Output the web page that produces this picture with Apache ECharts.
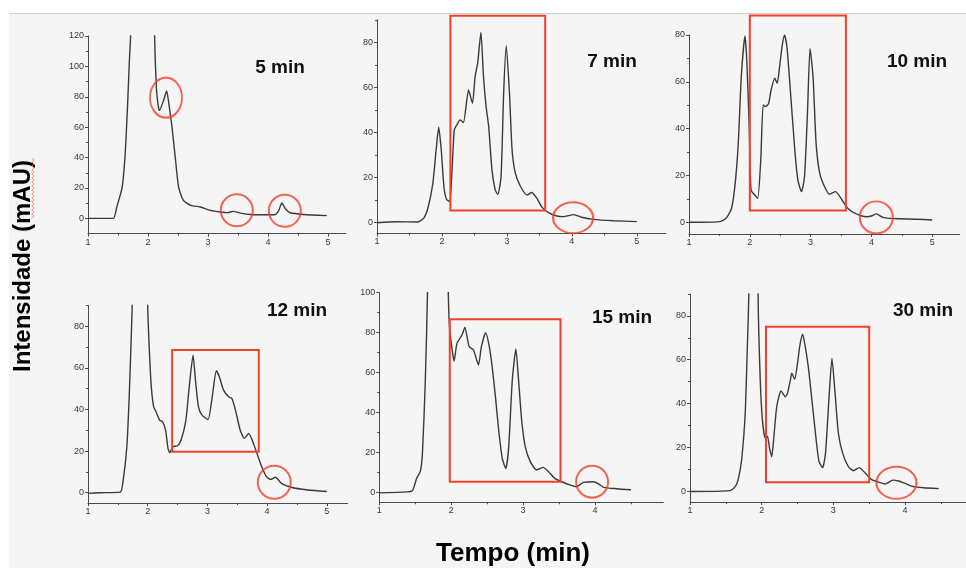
<!DOCTYPE html>
<html>
<head>
<meta charset="utf-8">
<script src="https://cdn.jsdelivr.net/npm/echarts@6/dist/echarts.min.js"></script>
<style>html,body{margin:0;padding:0;background:#fff}#c{width:966px;height:568px}</style>
</head>
<body>
<div id="c"></div>
<script>
// ---------- DATA ----------
var panelLabels = ['5 min', '7 min', '10 min', '12 min', '15 min', '30 min'];

var t5 = [1, 1.42, 1.48, 1.57, 1.62, 1.66, 1.69, 1.71, 1.90, 2.11, 2.14, 2.17, 2.19, 2.26, 2.31, 2.34, 2.40, 2.46, 2.51, 2.59, 2.71, 2.87, 3.04, 3.21, 3.33, 3.42, 3.54, 3.71, 3.93, 4.12, 4.18, 4.23, 4.29, 4.37, 4.59, 4.98];
var v5 = [0, 0, 7.5, 20.6, 42.5, 75, 104, 120, 600, 120, 86, 74, 71, 77.6, 83.8, 77.6, 60, 38, 20.6, 11.8, 8.6, 7.5, 5.3, 4.2, 3.8, 4.6, 3.5, 2.6, 2.4, 2.6, 5.3, 10.1, 6.4, 3.7, 2.6, 1.8];

var t7 = [1, 1.3, 1.62, 1.72, 1.79, 1.86, 1.91, 1.95, 1.99, 2.03, 2.07, 2.12, 2.15, 2.19, 2.23, 2.28, 2.33, 2.41, 2.47, 2.51, 2.55, 2.60, 2.64, 2.68, 2.72, 2.77, 2.82, 2.86, 2.91, 2.95, 2.99, 3.04, 3.08, 3.13, 3.21, 3.31, 3.38, 3.46, 3.54, 3.64, 3.77, 3.87, 4.03, 4.15, 4.33, 4.64, 5.0];
var v7 = [-0.2, 0.2, 0.1, 1.8, 7, 17.3, 32, 42.2, 32, 15.9, 10.2, 9.2, 20.3, 41, 43.3, 45.5, 44.3, 58.8, 52.9, 64.7, 70.7, 84.4, 64.7, 51.4, 42.5, 23.3, 14.4, 12.4, 20.3, 57.3, 78.5, 57.3, 32.1, 21.8, 15.9, 12.1, 13.2, 10.7, 6.7, 4.3, 2.8, 2.5, 3.4, 2.2, 1.3, 0.7, 0.3];

var t10 = [1, 1.50, 1.61, 1.70, 1.76, 1.81, 1.86, 1.92, 1.95, 1.99, 2.02, 2.08, 2.13, 2.18, 2.22, 2.26, 2.31, 2.35, 2.41, 2.45, 2.49, 2.53, 2.57, 2.61, 2.65, 2.74, 2.79, 2.85, 2.90, 2.95, 2.99, 3.04, 3.09, 3.15, 3.23, 3.31, 3.41, 3.50, 3.61, 3.75, 3.92, 4.00, 4.08, 4.19, 4.35, 4.74, 5.0];
var v10 = [0, 0.3, 1.7, 6, 16.7, 33.7, 62.2, 79.6, 69.3, 40.9, 13.8, 11.7, 10.2, 26.6, 50.1, 49.4, 50.8, 56.5, 61.5, 59.4, 66.5, 75, 80, 75, 62.2, 30.9, 18.1, 13.1, 19.5, 48, 74.3, 62.2, 33.7, 20.9, 15.2, 12, 13.1, 10.2, 6, 3.6, 2.4, 2.7, 3.6, 2.1, 1.6, 1.3, 1.0];

var t12 = [1, 1.20, 1.54, 1.59, 1.65, 1.69, 1.73, 1.74, 1.87, 2.0, 2.03, 2.06, 2.10, 2.14, 2.20, 2.25, 2.30, 2.34, 2.37, 2.42, 2.50, 2.56, 2.64, 2.69, 2.76, 2.80, 2.85, 2.91, 3.01, 3.08, 3.15, 3.20, 3.27, 3.36, 3.41, 3.47, 3.55, 3.62, 3.69, 3.75, 3.82, 3.91, 3.99, 4.06, 4.14, 4.24, 4.40, 4.68, 5.0];
var v12 = [-0.3, 0, 0.3, 6, 22, 46, 80, 90, 500, 90, 67, 51, 41.3, 38.9, 34.9, 34.1, 30, 21.3, 19.2, 22.1, 22.6, 25.3, 34.9, 49.3, 66.1, 54, 41.3, 37.3, 35.2, 46, 58.6, 55.7, 49.3, 46, 45.3, 39.7, 30, 26.1, 28.5, 25.3, 19.7, 12.5, 7.7, 6.4, 7.4, 4.5, 2.6, 1.3, 0.6];

var t15 = [1, 1.38, 1.46, 1.52, 1.57, 1.60, 1.64, 1.67, 1.81, 1.96, 1.98, 2.02, 2.04, 2.08, 2.15, 2.19, 2.25, 2.31, 2.38, 2.42, 2.48, 2.53, 2.57, 2.62, 2.66, 2.71, 2.76, 2.80, 2.85, 2.90, 2.93, 2.98, 3.03, 3.10, 3.19, 3.28, 3.35, 3.44, 3.54, 3.65, 3.74, 3.84, 3.98, 4.05, 4.12, 4.30, 4.50];
var v15 = [-0.3, 0.2, 0.8, 7, 10.4, 19.5, 56, 100, 500, 100, 81, 69.6, 65.8, 74.6, 78.8, 82.6, 73, 71.3, 63.8, 73, 80, 73, 62.9, 46.2, 31.2, 17, 12, 22.9, 56.3, 71.8, 59.6, 36.2, 22.9, 15.4, 11.2, 12.5, 10.4, 7, 5.3, 3.7, 2.8, 5, 5.3, 4.2, 2.5, 1.8, 1.3];

var t30 = [1, 1.56, 1.63, 1.67, 1.72, 1.77, 1.80, 1.82, 1.885, 1.95, 1.98, 2.01, 2.05, 2.08, 2.11, 2.14, 2.17, 2.21, 2.27, 2.33, 2.36, 2.40, 2.42, 2.46, 2.50, 2.53, 2.57, 2.60, 2.65, 2.71, 2.76, 2.80, 2.85, 2.89, 2.94, 2.98, 3.02, 3.07, 3.13, 3.21, 3.28, 3.36, 3.44, 3.53, 3.64, 3.72, 3.83, 3.91, 4.00, 4.12, 4.26, 4.47];
var v30 = [-0.2, 0.2, 2, 5, 14.2, 35.5, 66, 89.6, 500, 89.6, 50.7, 32.5, 24.1, 25.1, 19.5, 15.7, 24.8, 38.6, 45.7, 43.1, 44.6, 50.7, 53.8, 51, 58.4, 66, 71.6, 67.5, 56.8, 38.6, 23.3, 13.4, 10.7, 17.2, 43.1, 60.6, 46.2, 26.4, 17.2, 11.1, 9.3, 10.7, 8.4, 5.3, 4, 3.2, 5, 4.6, 3.5, 2, 1.5, 1.1];

// axis ranges & tick labels
var xMaxes = [5.3, 5.45, 5.45, 5.35, 4.95, 4.85];
var yMins = [-10, -5, -5, -5, -5, -5];
var yMaxes = [120, 90, 80, 90, 100, 90];
var yTickLabels = [
  [0, 20, 40, 60, 80, 100, 120],
  [0, 20, 40, 60, 80],
  [0, 20, 40, 60, 80],
  [0, 20, 40, 60, 80],
  [0, 20, 40, 60, 80, 100],
  [0, 20, 40, 60, 80]
];
var yMinorTicks = [
  [10, 30, 50, 70, 90, 110],
  [10, 30, 50, 70, 90],
  [10, 30, 50, 70],
  [10, 30, 50, 70, 90],
  [10, 30, 50, 70, 90],
  [10, 30, 50, 70, 90]
];
var xTickLabels = [
  [1, 2, 3, 4, 5], [1, 2, 3, 4, 5], [1, 2, 3, 4, 5],
  [1, 2, 3, 4, 5], [1, 2, 3, 4], [1, 2, 3, 4]
];
var xMinorTicks = [
  [1.5, 2.5, 3.5, 4.5], [1.5, 2.5, 3.5, 4.5, 5.5], [1.5, 2.5, 3.5, 4.5],
  [1.5, 2.5, 3.5, 4.5], [1.5, 2.5, 3.5, 4.5], [1.5, 2.5, 3.5, 4.5]
];

// annotations (data coordinates): rectangles
var boxPanels = [1, 2, 3, 4, 5];
var boxXFrom = [2.13, 2.0, 2.41, 1.98, 2.06];
var boxXTo = [3.59, 3.58, 3.86, 3.52, 3.50];
var boxYFrom = [5.2, 5.0, 19.7, 5.3, 4.0];
var boxYTo = [91.8, 88.3, 68.6, 86.7, 75];

// circled regions
var ringPanels = [0, 0, 0, 1, 2, 3, 4, 5];
var ringX = [2.30, 3.48, 4.28, 4.02, 4.08, 4.12, 3.96, 3.88];
var ringY = [79.4, 5.3, 5.0, 2.0, 2.1, 5.0, 5.3, 3.8];

// ---------- STYLE / LAYOUT ----------
var ringSizes = [[32, 40], [32, 32], [32, 32], [40, 31], [33, 32], [33, 33], [32, 32], [40, 32]];
var grids = [
  {left: 88, top: 36, width: 258, height: 197.6},
  {left: 377, top: 19.8, width: 289, height: 213.7},
  {left: 689, top: 35, width: 270.6, height: 199},
  {left: 88, top: 305.5, width: 259.7, height: 197.6},
  {left: 379.3, top: 292.7, width: 284, height: 209.6},
  {left: 690, top: 294, width: 276, height: 208}
];
var labelPos = [[280, 68], [612, 62], [917, 62], [297, 311], [622, 318], [923, 311]];
var RED = '#f0402a';
var AX = '#4a4a4a';
var FONT = '"Liberation Sans", Arial, sans-serif';

var T = [t5, t7, t10, t12, t15, t30];
var V = [v5, v7, v10, v12, v15, v30];

var option = {
  animation: false,
  backgroundColor: '#f5f5f5',
  grid: [], xAxis: [], yAxis: [], series: [], graphic: []
};

for (var i = 0; i < 6; i++) {
  var g = grids[i];
  option.grid.push({left: g.left, top: g.top, width: g.width, height: g.height, containLabel: false});
  option.xAxis.push({
    type: 'value', gridIndex: i, min: 1, max: xMaxes[i], position: 'bottom',
    axisLine: {show: true, onZero: false, lineStyle: {color: AX, width: 1}},
    axisTick: {show: true, length: 3, customValues: xTickLabels[i], lineStyle: {color: AX}},
    axisLabel: {show: true, customValues: xTickLabels[i], color: '#383838', fontSize: 9, fontFamily: FONT, margin: 4},
    splitLine: {show: false}
  });
  option.xAxis.push({
    type: 'value', gridIndex: i, min: 1, max: xMaxes[i], position: 'bottom',
    axisLine: {show: false, onZero: false},
    axisTick: {show: true, length: 2, customValues: xMinorTicks[i], lineStyle: {color: AX}},
    axisLabel: {show: false}, splitLine: {show: false}
  });
  option.yAxis.push({
    type: 'value', gridIndex: i, min: yMins[i], max: yMaxes[i], position: 'left',
    axisLine: {show: true, onZero: false, lineStyle: {color: AX, width: 1}},
    axisTick: {show: true, length: 3, customValues: yTickLabels[i], lineStyle: {color: AX}},
    axisLabel: {show: true, customValues: yTickLabels[i], color: '#383838', fontSize: 9, fontFamily: FONT, margin: 4},
    splitLine: {show: false}
  });
  option.yAxis.push({
    type: 'value', gridIndex: i, min: yMins[i], max: yMaxes[i], position: 'left',
    axisLine: {show: false, onZero: false},
    axisTick: {show: true, length: 2, customValues: yMinorTicks[i], lineStyle: {color: AX}},
    axisLabel: {show: false}, splitLine: {show: false}
  });

  var pts = [];
  for (var k = 0; k < T[i].length; k++) pts.push([T[i][k], V[i][k]]);
  option.series.push({
    type: 'line', xAxisIndex: 2 * i, yAxisIndex: 2 * i, data: pts,
    showSymbol: false, smooth: 0.2, clip: true,
    lineStyle: {color: '#3a3a3a', width: 1.4}, z: 3
  });

  var boxes = [];
  for (var b = 0; b < boxPanels.length; b++) {
    if (boxPanels[b] === i) boxes.push([boxXFrom[b], boxXTo[b], boxYFrom[b], boxYTo[b]]);
  }
  if (boxes.length) {
    option.series.push({
      type: 'custom', xAxisIndex: 2 * i, yAxisIndex: 2 * i, clip: false, z: 5,
      data: boxes,
      encode: {x: [0, 1], y: [2, 3]},
      renderItem: function (params, api) {
        var p1 = api.coord([api.value(0), api.value(3)]);
        var p2 = api.coord([api.value(1), api.value(2)]);
        return {
          type: 'rect',
          shape: {x: p1[0], y: p1[1], width: p2[0] - p1[0], height: p2[1] - p1[1]},
          style: {fill: 'none', stroke: RED, lineWidth: 2}
        };
      }
    });
  }
  var rings = [];
  for (var r = 0; r < ringPanels.length; r++) {
    if (ringPanels[r] === i) rings.push({value: [ringX[r], ringY[r]], symbolSize: ringSizes[r]});
  }
  if (rings.length) {
    option.series.push({
      type: 'scatter', xAxisIndex: 2 * i, yAxisIndex: 2 * i, clip: false, z: 5,
      symbol: 'circle', data: rings,
      itemStyle: {color: 'rgba(0,0,0,0)', borderColor: RED, borderWidth: 2},
      emphasis: {disabled: true}, silent: true
    });
  }
  option.graphic.push({
    type: 'text', x: labelPos[i][0], y: labelPos[i][1], z: 10,
    style: {text: panelLabels[i], fill: '#111', font: 'bold 19px ' + FONT, textAlign: 'center', textVerticalAlign: 'middle'}
  });
}

option.graphic.push({type: 'rect', x: 0, y: 0, z: -1, shape: {width: 966, height: 13}, style: {fill: '#ffffff'}});
option.graphic.push({type: 'rect', x: 0, y: 0, z: -1, shape: {width: 9, height: 568}, style: {fill: '#ffffff'}});
option.graphic.push({type: 'rect', x: 9, y: 13, z: -1, shape: {width: 957, height: 1}, style: {fill: '#d2d2d2'}});

option.graphic.push({
  type: 'text', x: 23, y: 266, rotation: Math.PI / 2, z: 10,
  style: {text: 'Intensidade (mAU)', fill: '#000', font: 'bold 24px ' + FONT, textAlign: 'center', textVerticalAlign: 'middle'}
});
// spell-check squiggle under "mAU"
var sq = [];
for (var s = 0; s <= 30; s++) sq.push([33 + (s % 2 ? 1.2 : -1.2), 158 + s * 2]);
option.graphic.push({type: 'polyline', z: 11, shape: {points: sq}, style: {stroke: '#f07878', lineWidth: 0.8, fill: null}});
option.graphic.push({
  type: 'text', x: 513, y: 554, z: 10,
  style: {text: 'Tempo (min)', fill: '#000', font: 'bold 26px ' + FONT, textAlign: 'center', textVerticalAlign: 'middle'}
});

var chart = echarts.init(document.getElementById('c'), null, {renderer: 'canvas'});
chart.setOption(option);
</script>
</body>
</html>
